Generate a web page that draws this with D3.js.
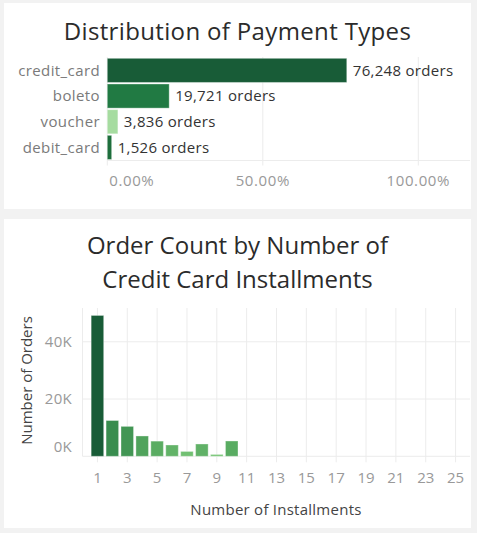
<!DOCTYPE html>
<html><head><meta charset="utf-8">
<script src="https://cdn.jsdelivr.net/npm/d3@7"></script>
<style>
html,body{margin:0;padding:0;background:#f2f2f2;}
svg{display:block;}
text{font-family:"Open Sans",Lato,sans-serif;}
</style></head><body>
<svg id="c" width="477" height="533"></svg>
<script>
// ---- data: payment types ----
const paymentTypes = ["credit_card", "boleto", "voucher", "debit_card"];
const paymentOrders = [76248, 19721, 3836, 1526];
const paymentPercent = [77.0, 19.9, 3.4, 1.4];
const paymentColors = ["#185c37", "#217a43", "#a6dca0", "#1e6e3c"];
const percentTicks = [0, 50, 100];

// ---- data: installments ----
const installments = [1, 2, 3, 4, 5, 6, 7, 8, 9, 10];
const installmentOrders = [49200, 12500, 10450, 7100, 5300, 3950, 1700, 4300, 650, 5350];
const installmentTicks = [1, 3, 5, 7, 9, 11, 13, 15, 17, 19, 21, 23, 25];
const countTicks = [0, 20000, 40000];

const svg = d3.select("#c");
const gridColor = "#ececec";

// panels
svg.append("rect").attr("x", 4).attr("y", 3).attr("width", 467).attr("height", 206).attr("fill", "#fff");
svg.append("rect").attr("x", 4).attr("y", 219).attr("width", 467).attr("height", 309).attr("fill", "#fff");

// ================= Chart 1 =================
svg.append("text").attr("x", 237.5).attr("y", 39.5).attr("text-anchor", "middle")
  .attr("font-size", 24).attr("letter-spacing", 0.35).attr("fill", "#2b2b2b").text("Distribution of Payment Types");

const x1 = d3.scaleLinear().domain([0, 100]).range([107.3, 418.3]);
const y1 = d3.scaleBand().domain(paymentTypes).range([57.8, 160]).paddingInner(0.06).paddingOuter(0.02);
const base1 = 160.5, right1 = 470;

// gridlines
svg.append("g").selectAll("line").data(percentTicks).join("line")
  .attr("x1", d => x1(d)).attr("x2", d => x1(d)).attr("y1", 57).attr("y2", base1 + 5)
  .attr("stroke", gridColor).attr("stroke-width", 1);
svg.append("line").attr("x1", x1(0)).attr("x2", right1).attr("y1", base1).attr("y2", base1)
  .attr("stroke", gridColor);

// bars
const rows = paymentTypes.map((t, i) => ({t, n: paymentOrders[i], p: paymentPercent[i], c: paymentColors[i]}));
svg.append("g").selectAll("rect").data(rows).join("rect")
  .attr("x", x1(0)).attr("y", d => y1(d.t))
  .attr("width", d => x1(d.p) - x1(0)).attr("height", y1.bandwidth())
  .attr("fill", d => d.c).attr("stroke", "rgba(255,255,255,0.35)").attr("stroke-width", 1);

// category labels
svg.append("g").selectAll("text").data(rows).join("text")
  .attr("x", 100).attr("y", d => y1(d.t) + y1.bandwidth() / 2).attr("dy", "0.35em")
  .attr("text-anchor", "end").attr("font-size", 15).attr("letter-spacing", 0.4)
  .attr("fill", "#7a7a7a").text(d => d.t);

// value labels
const fmt = d3.format(",");
svg.append("g").selectAll("text").data(rows).join("text")
  .attr("x", d => x1(d.p) + 6).attr("y", d => y1(d.t) + y1.bandwidth() / 2).attr("dy", "0.35em")
  .attr("font-size", 15).attr("letter-spacing", 0.3).attr("fill", "#333").text(d => fmt(d.n) + " orders");

// x tick labels
svg.append("g").selectAll("text").data(percentTicks).join("text")
  .attr("x", d => d === 0 ? x1(d) + 2 : x1(d)).attr("y", 186)
  .attr("text-anchor", d => d === 0 ? "start" : "middle")
  .attr("font-size", 15).attr("letter-spacing", 0.6).attr("fill", "#999").text(d => d.toFixed(2) + "%");

// ================= Chart 2 =================
const t2 = svg.append("text").attr("text-anchor", "middle").attr("font-size", 24).attr("fill", "#2b2b2b");
t2.append("tspan").attr("x", 237.5).attr("y", 254.3).text("Order Count by Number of");
t2.append("tspan").attr("x", 237.5).attr("y", 288.3).text("Credit Card Installments");

const x2 = d3.scaleLinear().domain([0, 26]).range([82.5, 470.5]);
const y2 = d3.scaleLinear().domain([0, 51800]).range([456.3, 308]);
const left2 = 82.5, right2 = 470;

// vertical gridlines
svg.append("g").selectAll("line").data(installmentTicks).join("line")
  .attr("x1", d => x2(d)).attr("x2", d => x2(d)).attr("y1", 308).attr("y2", y2(0) + 6)
  .attr("stroke", gridColor);
// left axis line
svg.append("line").attr("x1", left2).attr("x2", left2).attr("y1", 308).attr("y2", y2(0))
  .attr("stroke", gridColor);
// horizontal gridlines
svg.append("g").selectAll("line").data(countTicks).join("line")
  .attr("x1", left2).attr("x2", right2).attr("y1", d => y2(d)).attr("y2", d => y2(d))
  .attr("stroke", gridColor);

const col2 = d3.scaleLinear().domain([0, 6000, 13000, 50000])
  .range(["#7cc97a", "#55a85f", "#378b4e", "#175b36"]);
const bw = (x2(1) - x2(0)) * 0.84;
svg.append("g").selectAll("rect").data(installments.map((k, i) => ({k, v: installmentOrders[i]}))).join("rect")
  .attr("x", d => x2(d.k) - bw / 2).attr("width", bw)
  .attr("y", d => y2(d.v)).attr("height", d => y2(0) - y2(d.v))
  .attr("fill", d => col2(d.v)).attr("stroke", "rgba(255,255,255,0.35)");

// y tick labels
svg.append("g").selectAll("text").data(countTicks).join("text")
  .attr("x", 72).attr("y", d => y2(d) + (d === 0 ? -10 : 0)).attr("dy", "0.35em")
  .attr("text-anchor", "end").attr("font-size", 15).attr("letter-spacing", 0.3).attr("fill", "#999")
  .text(d => (d / 1000) + "K");

// x tick labels
svg.append("g").selectAll("text").data(installmentTicks).join("text")
  .attr("x", d => x2(d)).attr("y", 483.3).attr("text-anchor", "middle")
  .attr("font-size", 15).attr("fill", "#999").text(d => d);

// axis titles
svg.append("text").attr("transform", "translate(32,380.5) rotate(-90)").attr("text-anchor", "middle")
  .attr("font-size", 15).attr("fill", "#444").text("Number of Orders");
svg.append("text").attr("x", 276).attr("y", 515).attr("text-anchor", "middle")
  .attr("font-size", 15).attr("letter-spacing", 0.25).attr("fill", "#444").text("Number of Installments");
</script>
</body></html>
